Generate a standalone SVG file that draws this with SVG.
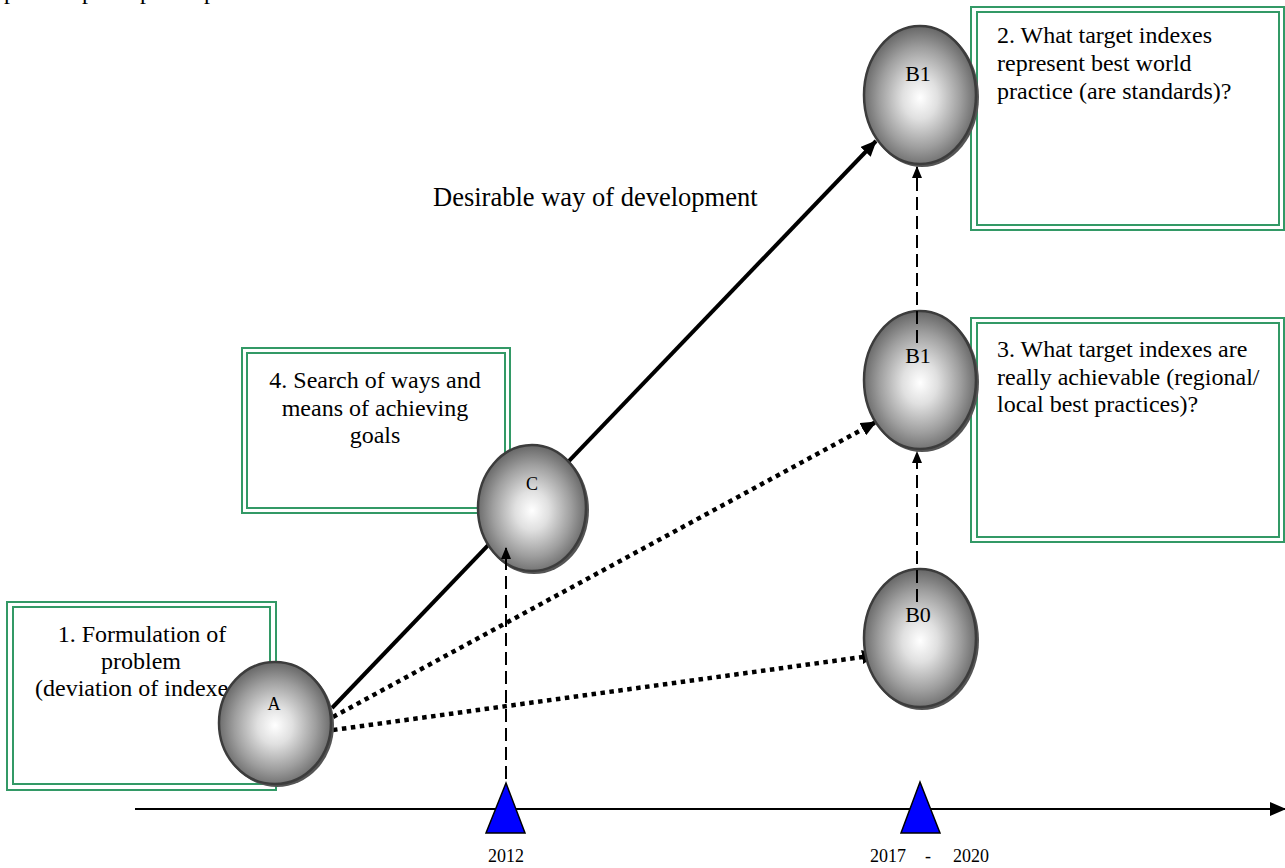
<svg xmlns="http://www.w3.org/2000/svg" width="1285" height="868" viewBox="0 0 1285 868">
  <defs>
    <radialGradient id="ball" cx="50%" cy="52%" r="52%">
      <stop offset="0" stop-color="#ffffff"/>
      <stop offset="0.3" stop-color="#e0e0e0"/>
      <stop offset="0.7" stop-color="#9e9e9e"/>
      <stop offset="1" stop-color="#666666"/>
    </radialGradient>
    <marker id="arrow" viewBox="0 0 12 10" refX="11" refY="5" markerWidth="12" markerHeight="10" markerUnits="userSpaceOnUse" orient="auto">
      <path d="M0,0 L12,5 L0,10 Z" fill="#000"/>
    </marker>
    <marker id="arrow-big" viewBox="0 0 16 14" refX="15" refY="7" markerWidth="16" markerHeight="14" markerUnits="userSpaceOnUse" orient="auto">
      <path d="M0,0 L16,7 L0,14 Z" fill="#000"/>
    </marker>
  </defs>
  <style>
    .frame-out { fill: #fff; stroke: #339966; stroke-width: 2; }
    .frame-in { fill: none; stroke: #339966; stroke-width: 2; }
    .txt { font-family: "Liberation Serif", "Times New Roman", serif; font-size: 24px; fill: #000; }
    .caption { font-family: "Liberation Serif", "Times New Roman", serif; font-size: 26.5px; fill: #000; }
    .mid { text-anchor: middle; }
    .ball { fill: url(#ball); stroke: #3c3c3c; stroke-width: 2.5; }
    .shadow { fill: #555; }
    .lbl { font-family: "Liberation Serif", "Times New Roman", serif; font-size: 22px; text-anchor: middle; fill: #000; }
    .lbl-s { font-family: "Liberation Serif", "Times New Roman", serif; font-size: 18px; text-anchor: middle; fill: #000; }
    .solid { stroke: #000; stroke-width: 4; fill: none; }
    .dotted { stroke: #000; stroke-width: 4.5; stroke-dasharray: 4.5 4.5; fill: none; }
    .dashed { stroke: #000; stroke-width: 2; stroke-dasharray: 13 6; fill: none; }
    .tick { fill: #0000ff; stroke: #000; stroke-width: 1.5; }
    .year { font-family: "Liberation Serif", "Times New Roman", serif; font-size: 18px; fill: #000; }
  </style>

  <rect width="1285" height="868" fill="#fff"/>

  <!-- descenders of the line above, cut by the page edge -->
  <g id="header-residue" class="txt">
    <text x="4" y="-1">p</text>
    <text x="82" y="-1">p</text>
    <text x="140" y="-1">p</text>
    <text x="204" y="-1">p</text>
  </g>

  <!-- question boxes -->
  <g id="box1">
    <rect class="frame-out" x="7" y="602" width="269" height="188"/>
    <rect class="frame-in" x="13" y="607" width="257" height="177"/>
    <text class="txt mid" x="142" y="642">1. Formulation of</text>
    <text class="txt mid" x="141" y="669">problem</text>
    <text class="txt" x="35" y="696">(deviation of indexes)</text>
  </g>
  <g id="box4">
    <rect class="frame-out" x="242" y="348" width="268" height="165"/>
    <rect class="frame-in" x="247" y="353" width="258" height="155"/>
    <text class="txt mid" x="375" y="388">4. Search of ways and</text>
    <text class="txt mid" x="375" y="416">means of achieving</text>
    <text class="txt mid" x="375" y="443">goals</text>
  </g>
  <g id="box2">
    <rect class="frame-out" x="971" y="7" width="313" height="223"/>
    <rect class="frame-in" x="977" y="12" width="302" height="213"/>
    <text class="txt" x="997" y="43">2. What target indexes</text>
    <text class="txt" x="997" y="71">represent best world</text>
    <text class="txt" x="997" y="99">practice (are standards)?</text>
  </g>
  <g id="box3">
    <rect class="frame-out" x="971" y="318" width="313" height="224"/>
    <rect class="frame-in" x="977" y="323" width="302" height="214"/>
    <text class="txt" x="997" y="357">3. What target indexes are</text>
    <text class="txt" x="997" y="385">really achievable (regional/</text>
    <text class="txt" x="997" y="412">local best practices)?</text>
  </g>

  <text id="path-caption" class="caption" x="433" y="206">Desirable way of development</text>

  <!-- time axis -->
  <g id="axis">
    <line x1="135" y1="809" x2="1285" y2="809" stroke="#000" stroke-width="2" marker-end="url(#arrow-big)"/>
    <polygon class="tick" points="506,783 525,833 486,833"/>
    <polygon class="tick" points="920,782 940,833 901,833"/>
    <text class="year" x="506" y="862" text-anchor="middle">2012</text>
    <text class="year" x="870" y="862">2017</text>
    <text class="year" x="925" y="862">-</text>
    <text class="year" x="953" y="862">2020</text>
  </g>

  <!-- development paths running behind the nodes -->
  <g id="connectors">
    <line class="solid" x1="332" y1="708" x2="876" y2="141" marker-end="url(#arrow-big)"/>
    <line class="dotted" x1="333" y1="717" x2="876" y2="422" marker-end="url(#arrow-big)"/>
    <line class="dotted" x1="333" y1="730" x2="877" y2="655" marker-end="url(#arrow-big)"/>
  </g>

  <!-- state nodes -->
  <g id="node-A">
    <ellipse class="shadow" cx="277" cy="725" rx="57" ry="62"/>
    <ellipse class="ball" cx="275" cy="723" rx="56" ry="61"/>
    <text class="lbl-s" x="274" y="710">A</text>
  </g>
  <g id="node-C">
    <ellipse class="shadow" cx="534" cy="510" rx="55" ry="64"/>
    <ellipse class="ball" cx="532" cy="508" rx="54" ry="63"/>
    <text class="lbl-s" x="532" y="490">C</text>
  </g>
  <g id="node-B1-top">
    <ellipse class="shadow" cx="922" cy="97" rx="57" ry="70"/>
    <ellipse class="ball" cx="920" cy="95" rx="56" ry="69"/>
    <text class="lbl" x="918" y="81">B1</text>
  </g>
  <g id="node-B1-mid">
    <ellipse class="shadow" cx="922" cy="382" rx="57" ry="70"/>
    <ellipse class="ball" cx="920" cy="380" rx="56" ry="69"/>
    <text class="lbl" x="918" y="363">B1</text>
  </g>
  <g id="node-B0">
    <ellipse class="shadow" cx="922" cy="640" rx="57" ry="70"/>
    <ellipse class="ball" cx="920" cy="638" rx="56" ry="69"/>
    <text class="lbl" x="918" y="622">B0</text>
  </g>

  <!-- dashed links drawn over the nodes -->
  <g id="connectors-over">
    <line class="dashed" x1="506" y1="779" x2="506" y2="548" marker-end="url(#arrow)"/>
    <line class="dashed" x1="917" y1="602" x2="917" y2="452" marker-end="url(#arrow)"/>
    <line class="dashed" x1="917" y1="343" x2="917" y2="167" marker-end="url(#arrow)"/>
  </g>
</svg>
